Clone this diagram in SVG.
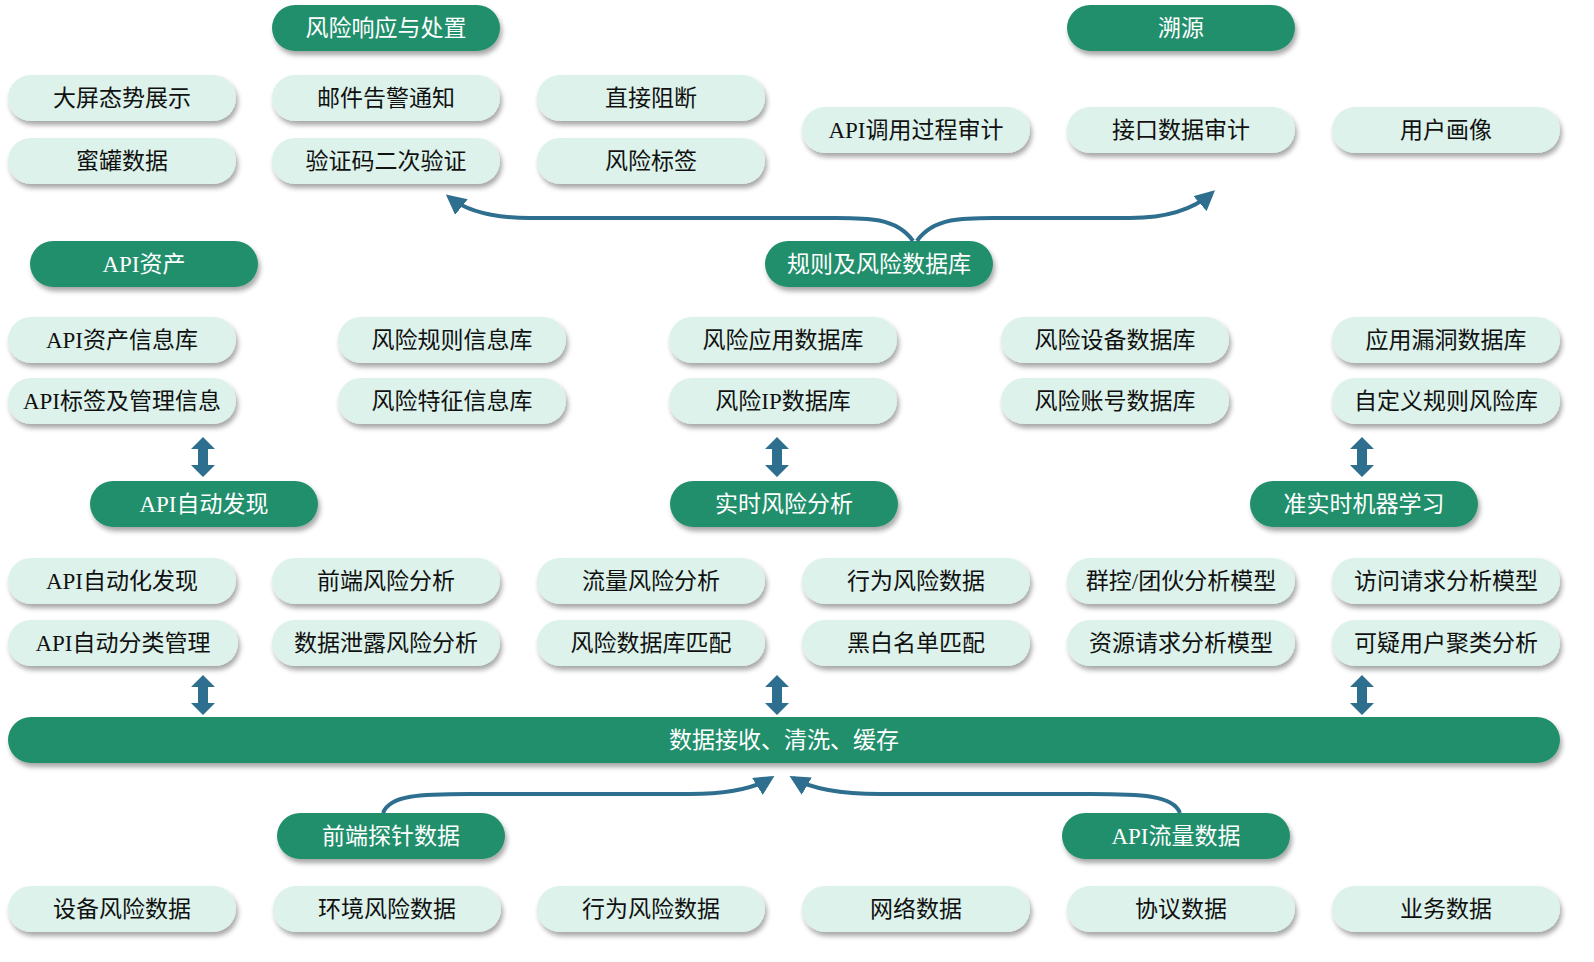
<svg xmlns="http://www.w3.org/2000/svg" width="1594" height="962" viewBox="0 0 1594 962">
<defs>
<filter id="sh" x="-10%" y="-20%" width="120%" height="160%"><feDropShadow dx="2" dy="4" stdDeviation="2.5" flood-color="#000" flood-opacity="0.35"/></filter>
<marker id="ah" viewBox="0 0 10 10" refX="8" refY="5" markerWidth="5" markerHeight="5" orient="auto-start-reverse"><path d="M0,0 L10,5 L0,10 z" fill="#2e6e8e"/></marker>
<path id="dbl" d="M0,0 L-12,12 L-5,12 L-5,28 L-12,28 L0,40 L12,28 L5,28 L5,12 L12,12 z" fill="#2e6e8e"/>
</defs>
<style>
.l rect{fill:#dcf2ea;filter:url(#sh)}
.d rect{fill:#238f6c;filter:url(#sh)}
text{font-family:"Liberation Serif","Noto Sans CJK SC",serif;font-size:23px;text-anchor:middle;dominant-baseline:central}
.l text{fill:#111}
.d text{fill:#fff}
.c{fill:none;stroke:#2e6e8e;stroke-width:4}
</style>
<rect width="1594" height="962" fill="#fff"/>
<g id="d1" class="d"><rect x="272" y="5" width="228" height="46" rx="23"/><text x="386" y="28">风险响应与处置</text></g>
<g id="d2" class="d"><rect x="1067" y="5" width="228" height="46" rx="23"/><text x="1181" y="28">溯源</text></g>
<g id="d3" class="d"><rect x="30" y="241" width="228" height="46" rx="23"/><text x="144" y="264">API资产</text></g>
<g id="d4" class="d"><rect x="765" y="241" width="228" height="46" rx="23"/><text x="879" y="264">规则及风险数据库</text></g>
<g id="d5" class="d"><rect x="90" y="481" width="228" height="46" rx="23"/><text x="204" y="504">API自动发现</text></g>
<g id="d6" class="d"><rect x="670" y="481" width="228" height="46" rx="23"/><text x="784" y="504">实时风险分析</text></g>
<g id="d7" class="d"><rect x="1250" y="481" width="228" height="46" rx="23"/><text x="1364" y="504">准实时机器学习</text></g>
<g id="d8" class="d"><rect x="277" y="813" width="228" height="46" rx="23"/><text x="391" y="836">前端探针数据</text></g>
<g id="d9" class="d"><rect x="1062" y="813" width="228" height="46" rx="23"/><text x="1176" y="836">API流量数据</text></g>
<g id="bar" class="d"><rect x="8" y="717" width="1552" height="46" rx="23"/><text x="784" y="740">数据接收、清洗、缓存</text></g>

<g id="n1" class="l"><rect x="8" y="75" width="228" height="46" rx="23"/><text x="122" y="98">大屏态势展示</text></g>
<g id="n2" class="l"><rect x="272" y="75" width="228" height="46" rx="23"/><text x="386" y="98">邮件告警通知</text></g>
<g id="n3" class="l"><rect x="537" y="75" width="228" height="46" rx="23"/><text x="651" y="98">直接阻断</text></g>
<g id="n4" class="l"><rect x="8" y="138" width="228" height="46" rx="23"/><text x="122" y="161">蜜罐数据</text></g>
<g id="n5" class="l"><rect x="272" y="138" width="228" height="46" rx="23"/><text x="386" y="161">验证码二次验证</text></g>
<g id="n6" class="l"><rect x="537" y="138" width="228" height="46" rx="23"/><text x="651" y="161">风险标签</text></g>
<g id="n7" class="l"><rect x="802" y="107" width="228" height="46" rx="23"/><text x="916" y="130">API调用过程审计</text></g>
<g id="n8" class="l"><rect x="1067" y="107" width="228" height="46" rx="23"/><text x="1181" y="130">接口数据审计</text></g>
<g id="n9" class="l"><rect x="1332" y="107" width="228" height="46" rx="23"/><text x="1446" y="130">用户画像</text></g>

<g id="n10" class="l"><rect x="8" y="317" width="228" height="46" rx="23"/><text x="122" y="340">API资产信息库</text></g>
<g id="n11" class="l"><rect x="338" y="317" width="228" height="46" rx="23"/><text x="452" y="340">风险规则信息库</text></g>
<g id="n12" class="l"><rect x="669" y="317" width="228" height="46" rx="23"/><text x="783" y="340">风险应用数据库</text></g>
<g id="n13" class="l"><rect x="1001" y="317" width="228" height="46" rx="23"/><text x="1115" y="340">风险设备数据库</text></g>
<g id="n14" class="l"><rect x="1332" y="317" width="228" height="46" rx="23"/><text x="1446" y="340">应用漏洞数据库</text></g>
<g id="n15" class="l"><rect x="8" y="378" width="228" height="46" rx="23"/><text x="122" y="401">API标签及管理信息</text></g>
<g id="n16" class="l"><rect x="338" y="378" width="228" height="46" rx="23"/><text x="452" y="401">风险特征信息库</text></g>
<g id="n17" class="l"><rect x="669" y="378" width="228" height="46" rx="23"/><text x="783" y="401">风险IP数据库</text></g>
<g id="n18" class="l"><rect x="1001" y="378" width="228" height="46" rx="23"/><text x="1115" y="401">风险账号数据库</text></g>
<g id="n19" class="l"><rect x="1332" y="378" width="228" height="46" rx="23"/><text x="1446" y="401">自定义规则风险库</text></g>

<g id="n20" class="l"><rect x="8" y="558" width="228" height="46" rx="23"/><text x="122" y="581">API自动化发现</text></g>
<g id="n21" class="l"><rect x="272" y="558" width="228" height="46" rx="23"/><text x="386" y="581">前端风险分析</text></g>
<g id="n22" class="l"><rect x="537" y="558" width="228" height="46" rx="23"/><text x="651" y="581">流量风险分析</text></g>
<g id="n23" class="l"><rect x="802" y="558" width="228" height="46" rx="23"/><text x="916" y="581">行为风险数据</text></g>
<g id="n24" class="l"><rect x="1067" y="558" width="228" height="46" rx="23"/><text x="1181" y="581">群控/团伙分析模型</text></g>
<g id="n25" class="l"><rect x="1332" y="558" width="228" height="46" rx="23"/><text x="1446" y="581">访问请求分析模型</text></g>
<g id="n26" class="l"><rect x="8" y="620" width="230" height="46" rx="23"/><text x="123" y="643">API自动分类管理</text></g>
<g id="n27" class="l"><rect x="272" y="620" width="228" height="46" rx="23"/><text x="386" y="643">数据泄露风险分析</text></g>
<g id="n28" class="l"><rect x="537" y="620" width="228" height="46" rx="23"/><text x="651" y="643">风险数据库匹配</text></g>
<g id="n29" class="l"><rect x="802" y="620" width="228" height="46" rx="23"/><text x="916" y="643">黑白名单匹配</text></g>
<g id="n30" class="l"><rect x="1067" y="620" width="228" height="46" rx="23"/><text x="1181" y="643">资源请求分析模型</text></g>
<g id="n31" class="l"><rect x="1332" y="620" width="228" height="46" rx="23"/><text x="1446" y="643">可疑用户聚类分析</text></g>

<g id="n32" class="l"><rect x="8" y="886" width="228" height="46" rx="23"/><text x="122" y="909">设备风险数据</text></g>
<g id="n33" class="l"><rect x="273" y="886" width="228" height="46" rx="23"/><text x="387" y="909">环境风险数据</text></g>
<g id="n34" class="l"><rect x="537" y="886" width="228" height="46" rx="23"/><text x="651" y="909">行为风险数据</text></g>
<g id="n35" class="l"><rect x="802" y="886" width="228" height="46" rx="23"/><text x="916" y="909">网络数据</text></g>
<g id="n36" class="l"><rect x="1067" y="886" width="228" height="46" rx="23"/><text x="1181" y="909">协议数据</text></g>
<g id="n37" class="l"><rect x="1332" y="886" width="228" height="46" rx="23"/><text x="1446" y="909">业务数据</text></g>

<g id="connectors">
<path class="c" marker-end="url(#ah)" d="M913,241 C895,215 860,218 820,218 L530,218 C490,218 465,210 449,197"/>
<path class="c" marker-end="url(#ah)" d="M917,241 C935,215 970,218 1010,218 L1130,218 C1170,218 1195,208 1212,193"/>
<path class="c" marker-end="url(#ah)" d="M383,813 C390,795 420,794 470,794 L690,794 C730,794 755,788 771,778"/>
<path class="c" marker-end="url(#ah)" d="M1180,813 C1173,795 1140,794 1090,794 L880,794 C840,794 810,788 793,778"/>
<use href="#dbl" x="203" y="437"/>
<use href="#dbl" x="777" y="437"/>
<use href="#dbl" x="1362" y="437"/>
<use href="#dbl" x="203" y="675"/>
<use href="#dbl" x="777" y="675"/>
<use href="#dbl" x="1362" y="675"/>
</g>
</svg>
